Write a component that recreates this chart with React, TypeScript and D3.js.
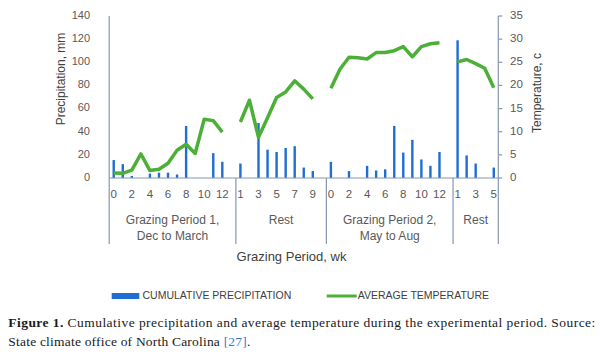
import React from "react";
import * as d3 from "d3";

// ---- data ----
const sectionTitles: string[][] = [
  ["Grazing Period 1,", "Dec to March"],
  ["Rest"],
  ["Grazing Period 2,", "May to Aug"],
  ["Rest"],
];
const gp1Weeks = ["0", "1", "2", "3", "4", "5", "6", "7", "8", "9", "10", "11", "12", "13"];
const rest1Weeks = ["1", "2", "3", "4", "5", "6", "7", "8", "9", "10"];
const gp2Weeks = ["0", "1", "2", "3", "4", "5", "6", "7", "8", "9", "10", "11", "12", "13"];
const rest2Weeks = ["1", "2", "3", "4", "5"];

// cumulative precipitation, mm (null = no bar)
const gp1Precip = [15.5, 12, 1.8, null, 3.8, 4.6, 4.6, 3, 45, null, null, 21.5, 14, null];
const rest1Precip = [12.5, null, 47.5, 24.5, 22.5, 26, 27.5, 9, 6, null];
const gp2Precip = [14, null, 6, null, 10.5, 6.5, 7.5, 45, 22, 33, 16, 10.5, 22.5, null];
const rest2Precip = [119, 19.5, 12.5, null, 9];

// average temperature, °C (null = gap)
const gp1Temp = [1.1, 1.0, 1.7, 5.2, 1.6, 1.9, 3.2, 6.0, 7.3, 5.3, 12.7, 12.4, 9.9, null];
const rest1Temp = [12.1, 16.8, 8.8, 13.0, 17.4, 18.6, 21.0, 19.2, 17.1, null];
const gp2Temp = [19.4, 23.5, 26.1, 26.0, 25.7, 27.1, 27.1, 27.5, 28.4, 26.2, 28.4, 29.0, 29.2, null];
const rest2Temp = [25.1, 25.6, 24.7, 23.7, 19.5];

const precipTicks = [0, 20, 40, 60, 80, 100, 120, 140];
const tempTicks = [0, 5, 10, 15, 20, 25, 30, 35];

const sectionWeeks = [gp1Weeks, rest1Weeks, gp2Weeks, rest2Weeks];
const weekLabels = sectionWeeks.flat();
const precipitation = [...gp1Precip, ...rest1Precip, ...gp2Precip, ...rest2Precip];
const temperature = [...gp1Temp, ...rest1Temp, ...gp2Temp, ...rest2Temp];

const BLUE = "#1f6fd3";
const GREEN = "#4caf37";
const AXIS = "#8497b0";
const TICK_TXT = "#595959";
const TITLE_TXT = "#404040";
const FONT = "'Liberation Sans', Arial, sans-serif";
const SERIF = "'Liberation Serif', 'Times New Roman', serif";

export default function App() {
  const left = 109.2;
  const right = 498.3;
  const top = 16;
  const bottom = 178;
  const n = weekLabels.length;

  const x = d3.scaleBand<number>().domain(d3.range(n)).range([left, right]).padding(0);
  const bw = x.bandwidth();
  const cx = (i: number) => (x(i) as number) + bw / 2;
  const yP = d3.scaleLinear().domain([0, 140]).range([bottom, top]);
  const yT = d3.scaleLinear().domain([0, 35]).range([bottom, top]);

  const line = d3
    .line<number | null>()
    .defined((d) => d != null)
    .x((_, i) => cx(i))
    .y((d) => yT(d as number));

  // section boundaries
  const starts: number[] = [];
  let acc = 0;
  sectionWeeks.forEach((w) => {
    starts.push(acc);
    acc += w.length;
  });
  const boundaryX = [...starts.map((s) => x(s) as number), right];

  const barW = 2.4;

  return (
    <svg
      width={600}
      height={355}
      style={{ position: "absolute", left: 0, top: 0, background: "#fff" }}
    >
      {/* bars */}
      {precipitation.map((v, i) =>
        v == null ? null : (
          <rect
            key={"b" + i}
            x={cx(i) - barW / 2}
            y={yP(v)}
            width={barW}
            height={bottom - yP(v)}
            fill={BLUE}
          />
        )
      )}
      {/* temperature line */}
      <path
        d={line(temperature) || ""}
        fill="none"
        stroke={GREEN}
        strokeWidth={3.5}
        strokeLinejoin="round"
        strokeLinecap="butt"
      />

      {/* left axis */}
      <line x1={left} x2={left} y1={top} y2={bottom} stroke={AXIS} strokeWidth={1.2} />
      {precipTicks.map((t) => (
        <text
          key={"pt" + t}
          x={90}
          y={yP(t)}
          textAnchor="end"
          dominantBaseline="middle"
          fontFamily={FONT}
          fontSize={11}
          fill={TICK_TXT}
        >
          {t}
        </text>
      ))}
      <text
        transform={`translate(62,79) rotate(-90)`}
        textAnchor="middle"
        dominantBaseline="middle"
        fontFamily={FONT}
        fontSize={12}
        fill={TITLE_TXT}
      >
        Precipitation, mm
      </text>

      {/* right axis */}
      <line x1={right} x2={right} y1={top} y2={bottom} stroke={AXIS} strokeWidth={1.2} />
      {tempTicks.map((t) => (
        <g key={"tt" + t}>
          <line x1={right} x2={right + 4} y1={yT(t)} y2={yT(t)} stroke={AXIS} strokeWidth={1.2} />
          <text
            x={510}
            y={yT(t)}
            dominantBaseline="middle"
            fontFamily={FONT}
            fontSize={11.5}
            fill={TICK_TXT}
          >
            {t}
          </text>
        </g>
      ))}
      <text
        transform={`translate(538,93) rotate(-90)`}
        textAnchor="middle"
        dominantBaseline="middle"
        fontFamily={FONT}
        fontSize={12}
        fill={TITLE_TXT}
      >
        Temperature, c
      </text>

      {/* category axis */}
      <line x1={left} x2={right} y1={bottom} y2={bottom} stroke={AXIS} strokeWidth={1.2} />
      {boundaryX.map((bx, i) => (
        <line key={"sep" + i} x1={bx} x2={bx} y1={bottom} y2={244} stroke={AXIS} strokeWidth={1.2} />
      ))}
      {weekLabels.map((w, i) =>
        i % 2 === 0 ? (
          <text
            key={"wl" + i}
            x={cx(i)}
            y={195}
            textAnchor="middle"
            dominantBaseline="middle"
            fontFamily={FONT}
            fontSize={11.5}
            fill={TICK_TXT}
          >
            {w}
          </text>
        ) : null
      )}
      {sectionTitles.map((lines, si) => {
        const mid = (boundaryX[si] + boundaryX[si + 1]) / 2;
        return lines.map((ln, li) => (
          <text
            key={"st" + si + "-" + li}
            x={mid}
            y={221 + li * 16}
            textAnchor="middle"
            dominantBaseline="middle"
            fontFamily={FONT}
            fontSize={12}
            fill={TICK_TXT}
          >
            {ln}
          </text>
        ));
      })}
      <text
        x={291.5}
        y={258}
        textAnchor="middle"
        dominantBaseline="middle"
        fontFamily={FONT}
        fontSize={13}
        fill={TITLE_TXT}
      >
        Grazing Period, wk
      </text>

      {/* legend */}
      <rect x={111.7} y={293} width={27.6} height={6} fill={BLUE} />
      <text x={142.5} y={296.5} dominantBaseline="middle" fontFamily={FONT} fontSize={10.5} fill={TITLE_TXT}>
        CUMULATIVE PRECIPITATION
      </text>
      <line x1={326.7} x2={356.7} y1={296} y2={296} stroke={GREEN} strokeWidth={3} />
      <text x={357.7} y={296.5} dominantBaseline="middle" fontFamily={FONT} fontSize={10.5} fill={TITLE_TXT}>
        AVERAGE TEMPERATURE
      </text>

      {/* caption */}
      <text x={8.3} y={327} fontFamily={SERIF} fontSize={13.5} fill="#1a1a1a" textLength={587} lengthAdjust="spacing">
        <tspan fontWeight="bold">Figure 1.</tspan>
        {" Cumulative precipitation and average temperature during the experimental period. Source:"}
      </text>
      <text x={8.3} y={346} fontFamily={SERIF} fontSize={13.5} fill="#1a1a1a" textLength={242} lengthAdjust="spacing">
        {"State climate office of North Carolina "}
        <tspan fill="#3c78c8">[27]</tspan>
        {"."}
      </text>
    </svg>
  );
}
